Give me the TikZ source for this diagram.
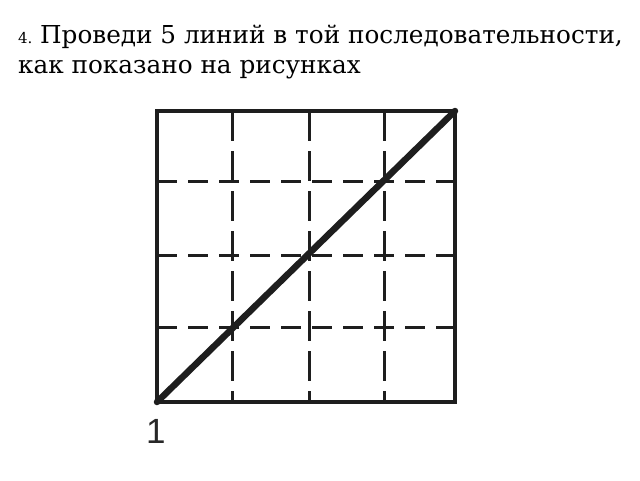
\documentclass[tikz,border=0pt]{standalone}
\usepackage{fontspec}
\setmainfont{DejaVu Serif}
\newfontfamily\labelfont{Liberation Sans}
\definecolor{ink}{RGB}{30,30,30}
\definecolor{labelgray}{RGB}{40,40,40}
\begin{document}
\begin{tikzpicture}[x=1pt,y=-1pt,
  frame/.style={draw=ink,line width=3.4pt,line join=miter},
  hgrid/.style={draw=ink,line width=3pt,dash pattern=on 20pt off 11pt},
  vgrid/.style={draw=ink,line width=3pt,dash pattern=on 30pt off 10pt},
  diag/.style={draw=ink,line width=6.5pt,line cap=round},
  caption/.style={anchor=base west,inner sep=0pt,text=black},
  numlabel/.style={anchor=base west,inner sep=0pt,text=labelgray,font=\labelfont\fontsize{35}{35}\selectfont}]
\useasboundingbox[fill=white] (0,0) rectangle (640,480);
% caption text
\node[caption] (num) at (18,43) {\fontsize{15}{18}\selectfont 4.};
\node[caption] (line1) at (40,43) {\fontsize{24.7}{30}\selectfont Проведи 5 линий в той последовательности,};
\node[caption] (line2) at (18,73) {\fontsize{24.7}{30}\selectfont как показано на рисунках};
% corners
\coordinate (bl) at (157,402);
\coordinate (tr) at (455,111);
\coordinate (tl) at (157,111);
\coordinate (br) at (455,402);
% horizontal dashed lines
\coordinate (h1l) at (157,181); \coordinate (h1r) at (455,181);
\coordinate (h2l) at (157,255); \coordinate (h2r) at (455,255);
\coordinate (h3l) at (157,327); \coordinate (h3r) at (455,327);
\draw[hgrid] (h1l) -- (h1r);
\draw[hgrid] (h2l) -- (h2r);
\draw[hgrid] (h3l) -- (h3r);
% vertical dashed lines
\coordinate (v1t) at (232,111); \coordinate (v1b) at (232,402);
\coordinate (v2t) at (309,111); \coordinate (v2b) at (309,402);
\coordinate (v3t) at (384,111); \coordinate (v3b) at (384,402);
\draw[vgrid] (v1t) -- (v1b);
\draw[vgrid] (v2t) -- (v2b);
\draw[vgrid] (v3t) -- (v3b);
% frame
\draw[frame] (tl) rectangle (br);
% diagonal
\draw[diag] (bl) -- (tr);
% label
\node[numlabel] (one) at (146,443) {1};
\end{tikzpicture}
\end{document}
